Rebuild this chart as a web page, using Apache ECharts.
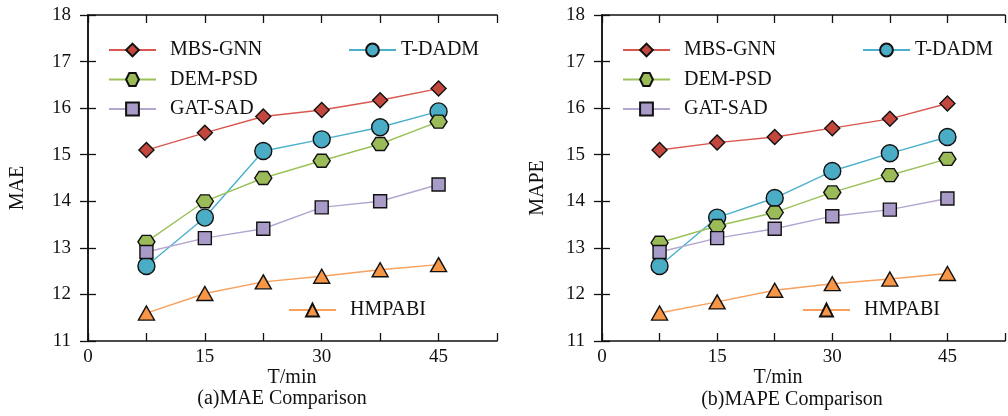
<!DOCTYPE html>
<html>
<head>
<meta charset="utf-8">
<script src="https://cdn.jsdelivr.net/npm/echarts@6/dist/echarts.min.js"></script>
<style>
  html, body { margin: 0; padding: 0; background: #fff; }
  #chart { width: 1008px; height: 416px; }
</style>
</head>
<body>
<div id="chart"></div>
<script>
const xVals = [7.5, 15, 22.5, 30, 37.5, 45];
const seriesNames = ["MBS-GNN", "T-DADM", "DEM-PSD", "GAT-SAD", "HMPABI"];

const maeMBS = [15.10, 15.47, 15.82, 15.96, 16.17, 16.42];
const maeTDADM = [12.61, 13.65, 15.08, 15.33, 15.59, 15.93];
const maeDEM = [13.13, 14.00, 14.50, 14.87, 15.23, 15.71];
const maeGAT = [12.91, 13.21, 13.41, 13.87, 14.00, 14.36];
const maeHMP = [11.60, 12.02, 12.27, 12.39, 12.53, 12.64];

const mapeMBS = [15.10, 15.26, 15.38, 15.57, 15.77, 16.10];
const mapeTDADM = [12.61, 13.65, 14.07, 14.65, 15.03, 15.38];
const mapeDEM = [13.11, 13.47, 13.76, 14.19, 14.56, 14.91];
const mapeGAT = [12.91, 13.21, 13.41, 13.68, 13.82, 14.06];
const mapeHMP = [11.60, 11.84, 12.09, 12.23, 12.33, 12.45];

const font = "'Liberation Serif', 'Times New Roman', serif";
const hexagon = "path://M-1,0 L-0.5,-0.866 L0.5,-0.866 L1,0 L0.5,0.866 L-0.5,0.866 Z";

// marker look per method
const styles = {
  "MBS-GNN": { line: "#d9574e", fill: "#c4473d", symbol: "diamond", size: 15 },
  "T-DADM": { line: "#4bb0cc", fill: "#4bacc6", symbol: "circle", size: 17 },
  "DEM-PSD": { line: "#9bc15a", fill: "#9bbb59", symbol: hexagon, size: [17, 15] },
  "GAT-SAD": { line: "#b3a6d1", fill: "#a99bc7", symbol: "rect", size: 13 },
  "HMPABI": { line: "#f8a05c", fill: "#f79646", symbol: "triangle", size: [16, 14] }
};

const grids = [
  { left: 88, top: 15, width: 409, height: 326 },
  { left: 602, top: 15, width: 408, height: 326 }
];

function makeSeries(name, values, gi) {
  const s = styles[name];
  return {
    name, type: "line",
    xAxisIndex: gi * 2, yAxisIndex: gi * 2,
    data: xVals.map((x, i) => [x, values[i]]),
    symbol: s.symbol, symbolSize: s.size, symbolKeepAspect: true,
    lineStyle: { color: s.line, width: 1.4 },
    itemStyle: { color: s.fill, borderColor: "#111", borderWidth: 1.4 },
    emphasis: { disabled: true },
    animation: false
  };
}

const xAxes = [], yAxes = [];
grids.forEach((g, gi) => {
  ["bottom", "top"].forEach((pos) => {
    xAxes.push({
      gridIndex: gi, type: "value", position: pos, min: 0, max: 52.5, interval: 7.5,
      axisLine: { show: true, lineStyle: { color: "#111", width: 1.5 } },
      axisTick: { show: true, inside: true, length: 8, lineStyle: { color: "#111", width: 1.3 } },
      axisLabel: {
        show: pos === "bottom", margin: 7, color: "#111", fontFamily: font, fontSize: 19,
        formatter: (v) => (v % 15 === 0 ? String(v) : "")
      },
      splitLine: { show: false }
    });
  });
  ["left", "right"].forEach((pos) => {
    yAxes.push({
      gridIndex: gi, type: "value", position: pos, min: 11, max: 18, interval: 1,
      axisLine: { show: true, lineStyle: { color: "#111", width: 1.5 } },
      axisTick: { show: true, inside: true, length: 8, lineStyle: { color: "#111", width: 1.3 } },
      axisLabel: { show: pos === "left", margin: 17, color: "#111", fontFamily: font, fontSize: 19 },
      splitLine: { show: false }
    });
  });
});

const series = [];
[[maeMBS, maeTDADM, maeDEM, maeGAT, maeHMP], [mapeMBS, mapeTDADM, mapeDEM, mapeGAT, mapeHMP]].forEach((set, gi) => {
  set.forEach((vals, i) => series.push(makeSeries(seriesNames[i], vals, gi)));
});

function legend(names, left, top, gap, textPad) {
  return {
    data: names, left, top, orient: "vertical", itemGap: gap, padding: 0,
    itemWidth: 47, itemHeight: 16, selectedMode: false,
    textStyle: { fontFamily: font, fontSize: 20, color: "#111", padding: [0, 0, 0, textPad] }
  };
}

const legends = [];
[[108, 348, 288], [622, 862, 802]].forEach(([a, b, c]) => {
  legends.push(legend(["MBS-GNN", "DEM-PSD", "GAT-SAD"], a, 40, 9.5, 9));
  legends.push(legend(["T-DADM"], b, 40, 0, 0));
  legends.push(legend(["HMPABI"], c, 300, 0, 9));
});

function txt(text, x, y, rotation) {
  return {
    type: "text", x, y, rotation: rotation || 0,
    style: { text, fontFamily: font, fontSize: 20, fill: "#111", align: "center", verticalAlign: "middle" }
  };
}

const chart = echarts.init(document.getElementById("chart"), null, { renderer: "canvas" });
chart.setOption({
  backgroundColor: "#fff",
  animation: false,
  grid: grids.map((g) => ({ ...g, show: false })),
  xAxis: xAxes,
  yAxis: yAxes,
  legend: legends,
  series,
  graphic: [
    txt("MAE", 18, 188, Math.PI / 2),
    txt("MAPE", 538, 188, Math.PI / 2),
    txt("T/min", 292, 378),
    txt("T/min", 778, 378),
    txt("(a)MAE Comparison", 282, 399),
    txt("(b)MAPE Comparison", 792, 400)
  ]
});
</script>
</body>
</html>
